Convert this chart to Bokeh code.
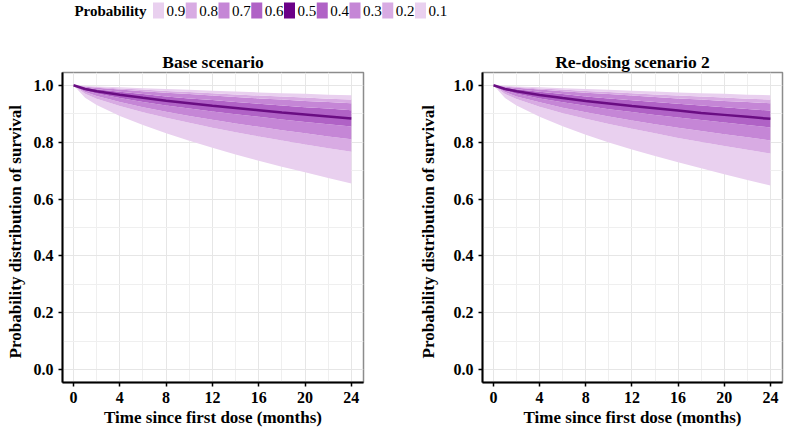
from bokeh.plotting import figure
from bokeh.models import Range1d, FixedTicker, ColumnDataSource, CustomJSTickFormatter
from bokeh.layouts import column, row
from bokeh.core.properties import value
from bokeh.embed import file_html
from bokeh.resources import INLINE

# ---------------- data ----------------
time = [0, 1, 2, 4, 6, 8, 10, 12, 14, 16, 18, 20, 22, 24]

# Base scenario quantiles of survival probability
base_q10 = [1.0, 0.956, 0.931, 0.892, 0.860, 0.831, 0.805, 0.780, 0.757, 0.735, 0.714, 0.694, 0.674, 0.655]
base_q20 = [1.0, 0.970, 0.953, 0.927, 0.905, 0.886, 0.868, 0.851, 0.835, 0.820, 0.806, 0.792, 0.779, 0.766]
base_q30 = [1.0, 0.976, 0.962, 0.941, 0.923, 0.907, 0.892, 0.879, 0.866, 0.854, 0.842, 0.831, 0.820, 0.810]
base_q40 = [1.0, 0.982, 0.971, 0.955, 0.941, 0.929, 0.918, 0.908, 0.898, 0.889, 0.880, 0.871, 0.863, 0.855]
base_q50 = [1.0, 0.987, 0.979, 0.967, 0.956, 0.946, 0.937, 0.928, 0.920, 0.912, 0.904, 0.897, 0.890, 0.883]
base_q60 = [1.0, 0.992, 0.986, 0.977, 0.969, 0.961, 0.954, 0.948, 0.941, 0.935, 0.929, 0.923, 0.918, 0.912]
base_q70 = [1.0, 0.995, 0.991, 0.985, 0.979, 0.974, 0.969, 0.964, 0.959, 0.954, 0.950, 0.945, 0.941, 0.937]
base_q80 = [1.0, 0.997, 0.994, 0.989, 0.985, 0.980, 0.976, 0.972, 0.968, 0.964, 0.961, 0.957, 0.953, 0.950]
base_q90 = [1.0, 0.998, 0.996, 0.993, 0.990, 0.987, 0.984, 0.981, 0.978, 0.975, 0.972, 0.970, 0.967, 0.965]

# Re-dosing scenario 2 quantiles
redo_q10 = [1.0, 0.955, 0.929, 0.889, 0.856, 0.826, 0.799, 0.774, 0.751, 0.729, 0.708, 0.687, 0.667, 0.648]
redo_q20 = [1.0, 0.969, 0.952, 0.925, 0.902, 0.882, 0.864, 0.847, 0.831, 0.815, 0.801, 0.787, 0.773, 0.760]
redo_q30 = [1.0, 0.976, 0.961, 0.940, 0.921, 0.905, 0.890, 0.876, 0.863, 0.851, 0.839, 0.828, 0.817, 0.806]
redo_q40 = [1.0, 0.982, 0.970, 0.954, 0.940, 0.928, 0.916, 0.906, 0.896, 0.887, 0.878, 0.869, 0.860, 0.852]
redo_q50 = [1.0, 0.987, 0.979, 0.966, 0.955, 0.945, 0.936, 0.927, 0.919, 0.911, 0.903, 0.896, 0.889, 0.882]
redo_q60 = [1.0, 0.992, 0.986, 0.977, 0.969, 0.961, 0.954, 0.947, 0.941, 0.935, 0.929, 0.923, 0.917, 0.911]
redo_q70 = [1.0, 0.995, 0.991, 0.985, 0.979, 0.974, 0.969, 0.964, 0.959, 0.954, 0.950, 0.945, 0.941, 0.937]
redo_q80 = [1.0, 0.997, 0.994, 0.989, 0.985, 0.980, 0.976, 0.972, 0.968, 0.964, 0.961, 0.957, 0.953, 0.950]
redo_q90 = [1.0, 0.998, 0.996, 0.993, 0.990, 0.987, 0.984, 0.981, 0.978, 0.975, 0.972, 0.970, 0.967, 0.965]

legend_labels = ["0.9", "0.8", "0.7", "0.6", "0.5", "0.4", "0.3", "0.2", "0.1"]
x_ticks = [0, 4, 8, 12, 16, 20, 24]
y_ticks = [0.0, 0.2, 0.4, 0.6, 0.8, 1.0]

# ---------------- style ----------------
SERIF = "Liberation Serif"
C1, C2, C3, C4, CMED = "#e9d0ef", "#d8abe3", "#c586d6", "#b062c6", "#6a0d83"
legend_colors = [C1, C2, C3, C4, "#6b0088", C4, C3, C2, C1]


def make_panel(title, qs, width, border_left, border_right, ylabel_standoff):
    p = figure(width=width, height=383,
               x_range=Range1d(-0.95, 25.05), y_range=Range1d(-0.045, 1.045),
               output_backend="svg", toolbar_location=None,
               min_border_left=border_left, min_border_right=border_right,
               min_border_top=24, min_border_bottom=49)
    p.title.text = title
    p.title.align = "center"
    p.title.text_font = SERIF
    p.title.text_font_style = "bold"
    p.title.text_font_size = "17.5px"
    p.title.text_color = "black"
    p.title.standoff = 1

    src = ColumnDataSource(dict(t=time, q10=qs[0], q20=qs[1], q30=qs[2], q40=qs[3],
                                q50=qs[4], q60=qs[5], q70=qs[6], q80=qs[7], q90=qs[8]))
    bands = [("q10", "q20", C1), ("q20", "q30", C2), ("q30", "q40", C3), ("q40", "q50", C4),
             ("q50", "q60", C4), ("q60", "q70", C3), ("q70", "q80", C2), ("q80", "q90", C1)]
    for lo, hi, c in bands:
        p.varea(x="t", y1=lo, y2=hi, source=src, fill_color=c, fill_alpha=1.0)
    p.line(x="t", y="q50", source=src, line_color=CMED, line_width=2.5)

    p.xaxis.ticker = FixedTicker(ticks=x_ticks, minor_ticks=[2, 6, 10, 14, 18, 22])
    p.yaxis.ticker = FixedTicker(ticks=y_ticks, minor_ticks=[0.1, 0.3, 0.5, 0.7, 0.9])
    p.xaxis.axis_label = "Time since first dose (months)"
    p.yaxis.axis_label = "Probability  distribution  of survival"
    p.yaxis.formatter = CustomJSTickFormatter(code="return tick.toFixed(1);")
    for ax in (p.xaxis[0], p.yaxis[0]):
        ax.axis_label_text_font = SERIF
        ax.axis_label_text_font_style = "bold"
        ax.axis_label_text_font_size = "17px"
        ax.axis_label_text_color = "black"
        ax.major_label_text_font = SERIF
        ax.major_label_text_font_style = "bold"
        ax.major_label_text_font_size = "16px"
        ax.major_label_text_color = "black"
        ax.axis_line_color = "black"
        ax.axis_line_width = 2
        ax.major_tick_line_color = "black"
        ax.major_tick_line_width = 1.5
        ax.major_tick_out = 4
        ax.major_tick_in = 0
        ax.minor_tick_line_color = None
        ax.major_label_standoff = 5
    p.xaxis.axis_label_standoff = 2
    p.yaxis.axis_label_standoff = ylabel_standoff
    p.yaxis.major_label_orientation = "horizontal"

    p.xgrid.grid_line_color = "#e6e6e6"
    p.ygrid.grid_line_color = "#e6e6e6"
    p.xgrid.minor_grid_line_color = "#efefef"
    p.ygrid.minor_grid_line_color = "#efefef"
    p.grid.grid_line_width = 1
    p.xgrid.minor_grid_line_width = 1
    p.ygrid.minor_grid_line_width = 1
    p.outline_line_color = "#8c8c8c"
    p.outline_line_width = 1.5
    p.background_fill_color = "white"
    p.border_fill_color = "white"
    return p


base_qs = [base_q10, base_q20, base_q30, base_q40, base_q50, base_q60, base_q70, base_q80, base_q90]
redo_qs = [redo_q10, redo_q20, redo_q30, redo_q40, redo_q50, redo_q60, redo_q70, redo_q80, redo_q90]

p1 = make_panel("Base scenario", base_qs, 410, 62, 47, 6)
p2 = make_panel("Re-dosing scenario 2", redo_qs, 377, 72, 5, 13)

# ---------------- legend strip ----------------
LW, LH = 787, 48
leg = figure(width=LW, height=LH, x_range=Range1d(0, LW), y_range=Range1d(0, LH),
             output_backend="svg", toolbar_location=None, min_border=0)
leg.axis.visible = False
leg.grid.visible = False
leg.outline_line_color = None
sw_x = [158 + i * 32.75 for i in range(len(legend_labels))]
sw_y = [LH - 10] * len(legend_labels)
leg.rect(x=sw_x, y=sw_y, width=11, height=16, fill_color=legend_colors, line_color=None)
leg.text(x=[x + 8 for x in sw_x], y=sw_y, text=legend_labels,
         text_font=value(SERIF), text_font_size=value("15px"),
         text_baseline="middle", text_align="left", text_color="black")
leg.text(x=[110], y=[LH - 10], text=["Probability"], text_font=value(SERIF),
         text_font_size=value("15px"), text_font_style="bold",
         text_baseline="middle", text_align="center", text_color="black")

layout = column(leg, row(p1, p2))
open("out.html", "w").write(file_html(layout, INLINE))
